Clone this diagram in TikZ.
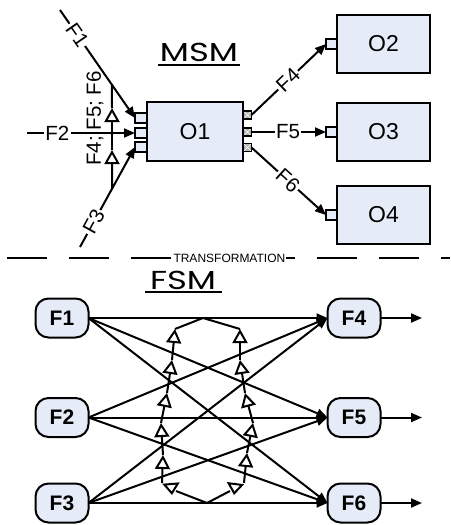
\documentclass[tikz,border=0pt]{standalone}
\usepackage{fontspec}
\setmainfont{Liberation Sans}
\newfontfamily\titlefont{Poppins}
\usetikzlibrary{arrows.meta,calc}
\definecolor{boxblue}{HTML}{E6ECF7}
\newcommand\titletext[1]{\scalebox{1.3}[1]{\titlefont\fontsize{26}{26}\selectfont #1}}

\begin{document}
\begin{tikzpicture}[x=1pt,y=-1pt,line width=2pt,
  every node/.style={inner sep=0pt,outer sep=0pt},
  obox/.style={draw,fill=boxblue,line width=2pt,minimum width=93pt,minimum height=58pt,
    font=\fontsize{23}{23}\selectfont},
  inport/.style={draw,fill=boxblue,line width=1.6pt,minimum width=11pt,minimum height=10pt},
  outport/.style={draw,fill=gray!60,line width=1.4pt,minimum width=8pt,minimum height=8pt,
    path picture={\draw[white,line width=0.6pt]
      (path picture bounding box.south west) -- (path picture bounding box.north east)
      (path picture bounding box.north west) -- (path picture bounding box.south east);}},
  fnode/.style={draw,fill=boxblue,line width=2pt,rounded corners=13pt,
    minimum width=53pt,minimum height=39pt,font=\bfseries\fontsize{21}{21}\selectfont},
  flow/.style={-{Triangle[length=11pt,width=9pt]}},
  otri/.style={-{Triangle[open,fill=white,length=14pt,width=15pt]}},
  btri/.style={-{Triangle[open,fill=white,length=12pt,width=17pt]}},
  lbl/.style={fill=white,inner sep=1.5pt,font=\fontsize{20.5}{20.5}\selectfont},
]
\useasboundingbox (0,0) rectangle (450,525);

% ---------------- MSM ----------------
\node (msm) at (199,52) {\titletext{MSM}};
\draw[line width=1.3pt] (158,65) -- (240,65);

\node[obox,minimum width=96pt,minimum height=59pt] (O1) at (195,131.5) {O1};
\node[obox] (O2) at (383.5,44) {O2};
\node[obox] (O3) at (383.5,132) {O3};
\node[obox] (O4) at (383.5,215) {O4};

\node[inport,minimum width=12pt] (pl1) at (141,118) {};
\node[inport,minimum width=12pt] (pl2) at (141,133) {};
\node[inport,minimum width=12pt] (pl3) at (141,147) {};
\node[outport] (pr1) at (247.5,115) {};
\node[outport] (pr2) at (247.5,132) {};
\node[outport] (pr3) at (247.5,147.5) {};
\node[inport] (q2) at (331.5,44) {};
\node[inport] (q3) at (331.5,132) {};
\node[inport] (q4) at (331.5,215) {};

\coordinate (s1) at (60,10);
\coordinate (s2) at (27,133);
\coordinate (s3) at (80,247);

\draw[flow] (s1) -- coordinate[pos=0.693] (v1) node[lbl,sloped,pos=0.23] {F1} (pl1.west);
\draw[flow] (s2) -- node[lbl,pos=0.28] {F2} (pl2.west);
\draw[flow] (s3) -- coordinate[pos=0.582] (v3) node[lbl,sloped,pos=0.25] {F3} (pl3.west);

\draw[flow] (pr1.east) -- node[lbl,sloped,pos=0.49] {F4} (q2.west);
\draw[flow] (pr2.east) -- node[lbl,pos=0.49] {F5} (q3.west);
\draw[flow] (pr3.east) -- node[lbl,sloped,pos=0.49] {F6} (q4.west);

% feedback of F4, F5, F6 into the inputs
\coordinate (m1) at (112,150);
\coordinate (m2) at (112,108);
\draw[otri] (v3) -- (m1);
\draw[otri] (m1) -- (m2);
\draw (m2) -- (v1);
\node[rotate=90,font=\fontsize{20.5}{20.5}\selectfont] (fb) at (95,118.5) {F4; F5; F6};

% ---------------- separator ----------------
\coordinate (d0) at (7,258);
\coordinate (d1) at (450,258);
\draw[line width=2pt,dash pattern=on 40pt off 22pt] (d0) -- node[fill=white,inner xsep=0.5pt,
  font=\fontsize{12}{12}\selectfont,pos=0.502] {TRANSFORMATION} (d1);

% ---------------- FSM ----------------
\node (fsm) at (183,280) {\titletext{FSM}};
\draw[line width=1.3pt] (145,292) -- (222,292);

\node[fnode] (F1) at (62,318) {F1};
\node[fnode] (F2) at (62,417.5) {F2};
\node[fnode] (F3) at (62,503) {F3};
\node[fnode] (F4) at (354,318) {F4};
\node[fnode] (F5) at (354,417.5) {F5};
\node[fnode] (F6) at (354,503) {F6};

\foreach \a in {F1,F2,F3}
  \foreach \b in {F4,F5,F6}
    \draw[flow] (\a.east) -- (\b.west);

\coordinate (e4) at (422,318);
\coordinate (e5) at (422,417.5);
\coordinate (e6) at (422,503);
\draw[flow] (F4.east) -- (e4);
\draw[flow] (F5.east) -- (e5);
\draw[flow] (F6.east) -- (e6);

% feedback loop between the flows
\coordinate (T) at (203,318);
\coordinate (B) at (207,503);
\coordinate (Lb) at (162,483);
\coordinate (a1) at (163,455);
\coordinate (a2) at (161,423);
\coordinate (a3) at (167,393);
\coordinate (a4) at (172,360);
\coordinate (a5) at (175,329);
\coordinate (Rb) at (244,483);
\coordinate (b1) at (247,453);
\coordinate (b2) at (253,423);
\coordinate (b3) at (245,393);
\coordinate (b4) at (240,360);
\coordinate (b5) at (240,329);

\draw[otri] (Lb) -- (a1);
\draw[otri] (a1) -- (a2);
\draw[otri] (a2) -- (a3);
\draw[otri] (a3) -- (a4);
\draw[otri] (a4) -- (a5);
\draw (a5) -- (T);
\draw[otri] (Rb) -- (b1);
\draw[otri] (b1) -- (b2);
\draw[otri] (b2) -- (b3);
\draw[otri] (b3) -- (b4);
\draw[otri] (b4) -- (b5);
\draw (b5) -- (T);

\coordinate (lt0) at (171,483);
\coordinate (lt1) at (172,495);
\coordinate (rt0) at (235.5,483);
\coordinate (rt1) at (234,495);
\draw (B) -- (176,491);
\draw (B) -- (230,491);
\draw[btri] (lt0) -- (lt1);
\draw[btri] (rt0) -- (rt1);
\end{tikzpicture}
\end{document}
